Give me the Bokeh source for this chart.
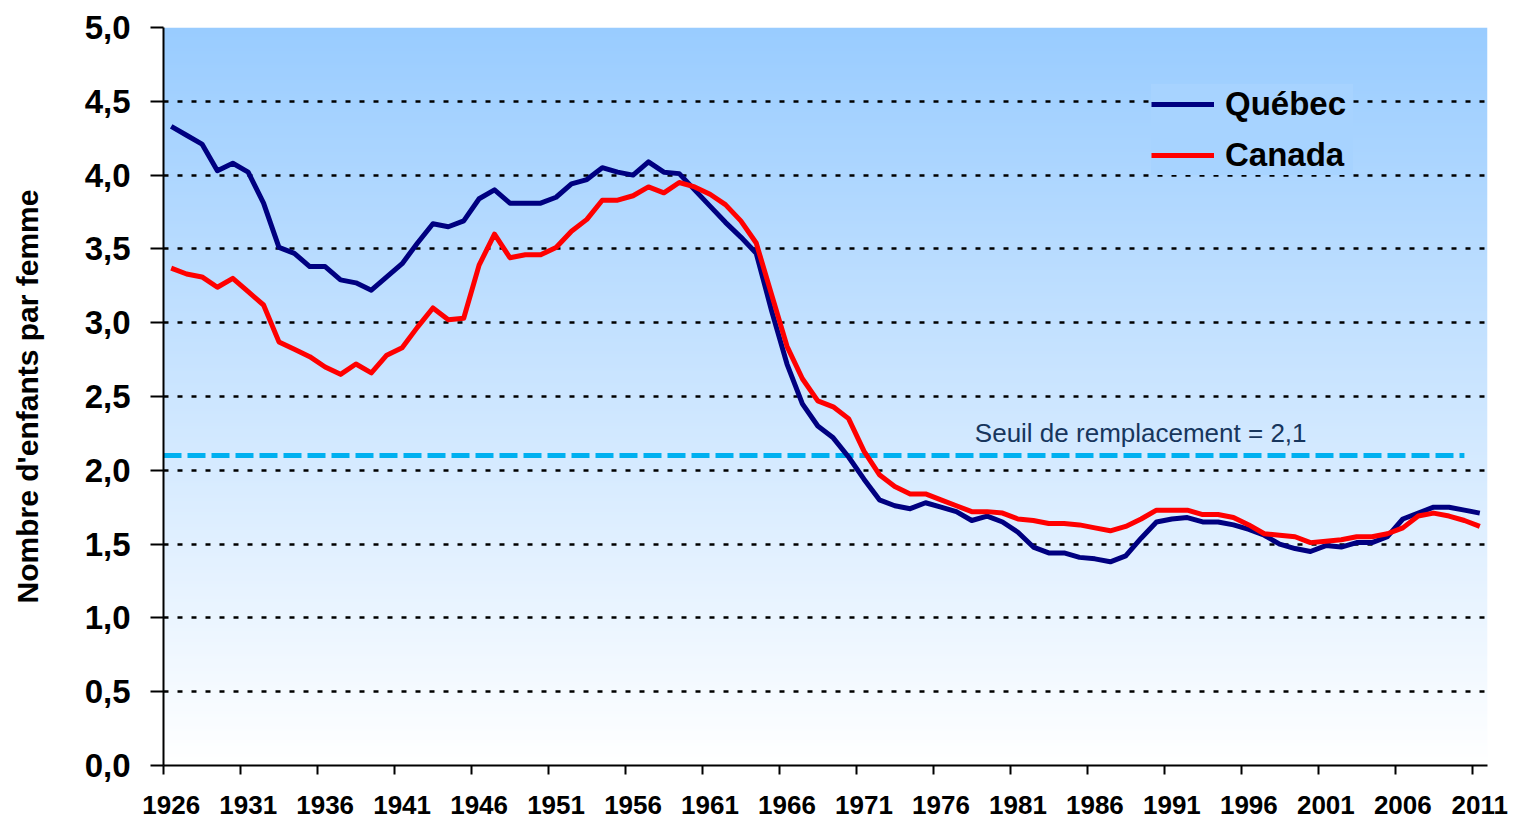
import numpy as np
from bokeh.plotting import figure
from bokeh.models import (Range1d, FixedTicker, CustomJSTickFormatter, Legend,
                          LegendItem, Label)
from bokeh.embed import file_html
from bokeh.resources import INLINE

# ---------------- data ----------------
years = list(range(1926, 2012))
quebec = [4.33, 4.27, 4.21, 4.03, 4.08, 4.02, 3.81, 3.51, 3.47, 3.38,
          3.38, 3.29, 3.27, 3.22, 3.31, 3.40, 3.54, 3.67, 3.65, 3.69,
          3.84, 3.90, 3.81, 3.81, 3.81, 3.85, 3.94, 3.97, 4.05, 4.02,
          4.00, 4.09, 4.02, 4.01, 3.90, 3.79, 3.68, 3.58, 3.47, 3.08,
          2.72, 2.45, 2.30, 2.22, 2.09, 1.94, 1.80, 1.76, 1.74, 1.78,
          1.75, 1.72, 1.66, 1.69, 1.65, 1.58, 1.48, 1.44, 1.44, 1.41,
          1.40, 1.38, 1.42, 1.54, 1.65, 1.67, 1.68, 1.65, 1.65, 1.63,
          1.60, 1.56, 1.50, 1.47, 1.45, 1.49, 1.48, 1.51, 1.51, 1.55,
          1.67, 1.71, 1.75, 1.75, 1.73, 1.71]
canada = [3.37, 3.33, 3.31, 3.24, 3.30, 3.21, 3.12, 2.87, 2.82, 2.77,
          2.70, 2.65, 2.72, 2.66, 2.78, 2.83, 2.97, 3.10, 3.02, 3.03,
          3.39, 3.60, 3.44, 3.46, 3.46, 3.51, 3.62, 3.70, 3.83, 3.83,
          3.86, 3.92, 3.88, 3.95, 3.92, 3.87, 3.80, 3.69, 3.54, 3.19,
          2.84, 2.62, 2.47, 2.43, 2.35, 2.13, 1.97, 1.89, 1.84, 1.84,
          1.80, 1.76, 1.72, 1.72, 1.71, 1.67, 1.66, 1.64, 1.64, 1.63,
          1.61, 1.59, 1.62, 1.67, 1.73, 1.73, 1.73, 1.70, 1.70, 1.68,
          1.63, 1.57, 1.56, 1.55, 1.51, 1.52, 1.53, 1.55, 1.55, 1.57,
          1.61, 1.69, 1.71, 1.69, 1.66, 1.62]
x_tick_years = list(range(1926, 2012, 5))
y_ticks = [0.0, 0.5, 1.0, 1.5, 2.0, 2.5, 3.0, 3.5, 4.0, 4.5, 5.0]
seuil = 2.1
seuil_label = "Seuil de remplacement = 2,1"
y_title = "Nombre d'enfants par femme"
series_names = ["Québec", "Canada"]

FONT = "Liberation Sans"

p = figure(width=1513, height=821,
           x_range=Range1d(years[0] - 0.5, years[-1] + 0.5),
           y_range=Range1d(y_ticks[0], y_ticks[-1]),
           output_backend="svg", toolbar_location=None,
           min_border_left=163, min_border_right=26,
           min_border_top=27, min_border_bottom=56,
           background_fill_color="white", border_fill_color="white",
           outline_line_color=None)

# gradient background of the plot area
n = 256
t = np.linspace(0, 1, n)
img = np.zeros((n, 1), dtype=np.uint32)
view = img.view(dtype=np.uint8).reshape((n, 1, 4))
view[:, 0, 0] = np.round(255 + (0x99 - 255) * t).astype(np.uint8)
view[:, 0, 1] = np.round(255 + (0xCC - 255) * t).astype(np.uint8)
view[:, 0, 2] = 255
view[:, 0, 3] = 255
p.image_rgba(image=[img], x=years[0] - 0.5, y=y_ticks[0],
             dw=len(years), dh=y_ticks[-1] - y_ticks[0], level="image")

# replacement threshold
p.line(x=[years[0] - 0.5, years[-1] - 1], y=[seuil, seuil],
       line_color="#00B0F0", line_width=5, line_dash="18 6")
p.add_layout(Label(x=1978.2, y=seuil + 0.155, text=seuil_label,
                   text_font=FONT, text_font_size="26px",
                   text_color="#17365D", text_baseline="alphabetic",
                   text_align="left"))

r_q = p.line(years, quebec, line_color="#000080", line_width=5,
             line_join="round")
r_c = p.line(years, canada, line_color="#FF0000", line_width=5,
             line_join="round")

legend = Legend(items=[LegendItem(label=series_names[0], renderers=[r_q]),
                       LegendItem(label=series_names[1], renderers=[r_c])],
                location=(988, 590),
                label_text_font=FONT, label_text_font_style="bold",
                label_text_font_size="33px", label_text_color="black",
                glyph_width=63, glyph_height=40, label_height=40,
                label_width=128,
                label_standoff=11, spacing=11, padding=10, margin=0,
                border_line_color=None, background_fill_color="#A7D3FF",
                background_fill_alpha=1.0)
p.add_layout(legend)

# x axis
p.xaxis.ticker = FixedTicker(ticks=x_tick_years,
                             minor_ticks=[y - 0.5 for y in x_tick_years])
p.xaxis.formatter = CustomJSTickFormatter(code="return tick.toFixed(0);")
p.xaxis.major_tick_line_color = None
p.xaxis.major_tick_out = 0
p.xaxis.major_tick_in = 0
p.xaxis.minor_tick_line_color = "black"
p.xaxis.minor_tick_line_width = 2
p.xaxis.minor_tick_out = 9
p.xaxis.minor_tick_in = 0
p.xaxis.axis_line_color = "black"
p.xaxis.axis_line_width = 2
p.xaxis.major_label_text_font = FONT
p.xaxis.major_label_text_font_style = "bold"
p.xaxis.major_label_text_font_size = "26px"
p.xaxis.major_label_text_color = "black"
p.xaxis.major_label_standoff = 21

# y axis
p.yaxis.ticker = FixedTicker(ticks=y_ticks)
p.yaxis.formatter = CustomJSTickFormatter(
    code="return tick.toFixed(1).replace('.', ',');")
p.yaxis.major_tick_line_color = "black"
p.yaxis.major_tick_line_width = 2
p.yaxis.major_tick_out = 13
p.yaxis.major_tick_in = 0
p.yaxis.minor_tick_line_color = None
p.yaxis.axis_line_color = "black"
p.yaxis.axis_line_width = 2
p.yaxis.major_label_text_font = FONT
p.yaxis.major_label_text_font_style = "bold"
p.yaxis.major_label_text_font_size = "33px"
p.yaxis.major_label_text_color = "black"
p.yaxis.major_label_standoff = 20
p.yaxis.axis_label = y_title
p.yaxis.axis_label_text_font = FONT
p.yaxis.axis_label_text_font_style = "bold"
p.yaxis.axis_label_text_font_size = "30px"
p.yaxis.axis_label_text_color = "black"
p.yaxis.axis_label_standoff = 38

# grid
p.xgrid.grid_line_color = None
p.ygrid.ticker = FixedTicker(ticks=y_ticks)
p.ygrid.grid_line_color = "black"
p.ygrid.grid_line_width = 2.5
p.ygrid.grid_line_dash = "5 9"

open("out.html", "w").write(file_html(p, INLINE))
